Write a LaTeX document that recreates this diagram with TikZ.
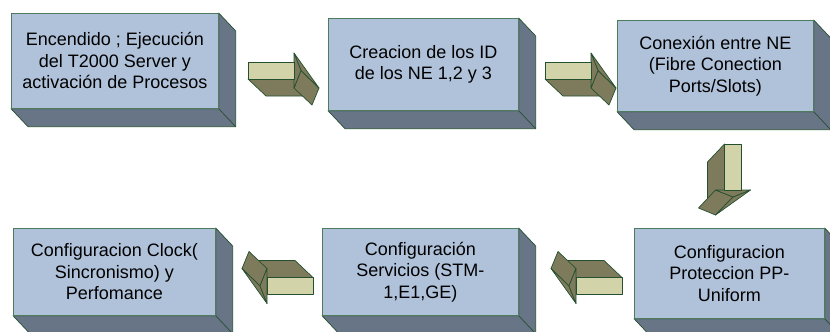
\documentclass[tikz,border=0pt]{standalone}
\usepackage{fontspec}
\setmainfont{Liberation Sans}
\definecolor{boxfront}{HTML}{B0C2DA}
\definecolor{boxside}{HTML}{687587}
\definecolor{boxedge}{HTML}{4E7A5E}
\definecolor{darkedge}{HTML}{24502F}
\definecolor{arrowpale}{HTML}{D3D3A9}
\definecolor{arrowdark}{HTML}{7E7B5D}
\newcommand{\extrudebox}[1]{%
  \draw[sideface] (#1.north east) -- ++(17,18) |- ([shift={(17,18)}]#1.south west) -- (#1.south west) -- (#1.south east) -- cycle;
  \draw[sideface] (#1.south east) -- ++(17,18);
  \draw[frontline] (#1.north west) rectangle (#1.south east);
}
\begin{document}
\begin{tikzpicture}[x=1pt,y=-1pt,
  box/.style={fill=boxfront, draw=boxedge, line width=0.7pt, anchor=north west,
    inner sep=0pt, align=center, font=\fontsize{18}{21.5}\selectfont},
  sideface/.style={fill=boxside, draw=darkedge, line width=0.7pt, line join=round},
  frontline/.style={draw=boxedge, line width=0.7pt},
  adark/.style={fill=arrowdark, draw=darkedge, line width=0.7pt, line join=round},
  apale/.style={fill=arrowpale, draw=darkedge, line width=0.7pt, line join=round},
  blockarrow/.pic={
    \draw[adark] (0,8.5) -- (46,8.5) -- (64,25.5) -- (18,25.5) -- cycle;
    \draw[adark] (53,0) -- (71,17.5) -- (64,34.5) -- (46,17.5) -- cycle;
    \draw[adark] (46,-17.5) -- (71,17.5) -- (53,0) -- cycle;
    \draw[adark] (46,-17.5) -- (53,0) -- (46,17.5) -- cycle;
    \draw[apale] (0,-8.5) rectangle (46,8.5);
  }]
\useasboundingbox (0,0) rectangle (830,332);

\node[box, minimum width=207pt, minimum height=95pt] (b1) at (11,13)
  {Encendido ; Ejecución\\del T2000 Server y\\activación de Procesos};
\node[box, minimum width=190pt, minimum height=92pt] (b2) at (328,18)
  {Creacion de los ID\\de los NE 1,2 y 3};
\node[box, minimum width=196pt, minimum height=91pt] (b3) at (617,20)
  {Conexión entre NE\\(Fibre Conection\\Ports/Slots)};
\node[box, minimum width=190pt, minimum height=90pt] (b4) at (634,228)
  {Configuracion\\Proteccion PP-\\Uniform};
\node[box, minimum width=196pt, minimum height=87pt] (b6) at (322,228)
  {Configuración\\Servicios (STM-\\1,E1,GE)};
\node[box, minimum width=202pt, minimum height=87pt] (b5) at (13,228)
  {Configuracion Clock(\\Sincronismo) y\\Perfomance};

\extrudebox{b1}
\extrudebox{b2}
\extrudebox{b3}
\extrudebox{b4}
\extrudebox{b5}
\extrudebox{b6}

\coordinate (a1) at (248,70.5);
\coordinate (a2) at (545,70.5);
\coordinate (a3) at (733,144);
\coordinate (a4) at (622,286);
\coordinate (a5) at (313,286);

\path (a1) pic {blockarrow};
\path (a2) pic {blockarrow};
\path (a3) pic[rotate=-90] {blockarrow};
\path (a4) pic[rotate=180] {blockarrow};
\path (a5) pic[rotate=180] {blockarrow};
\end{tikzpicture}
\end{document}
